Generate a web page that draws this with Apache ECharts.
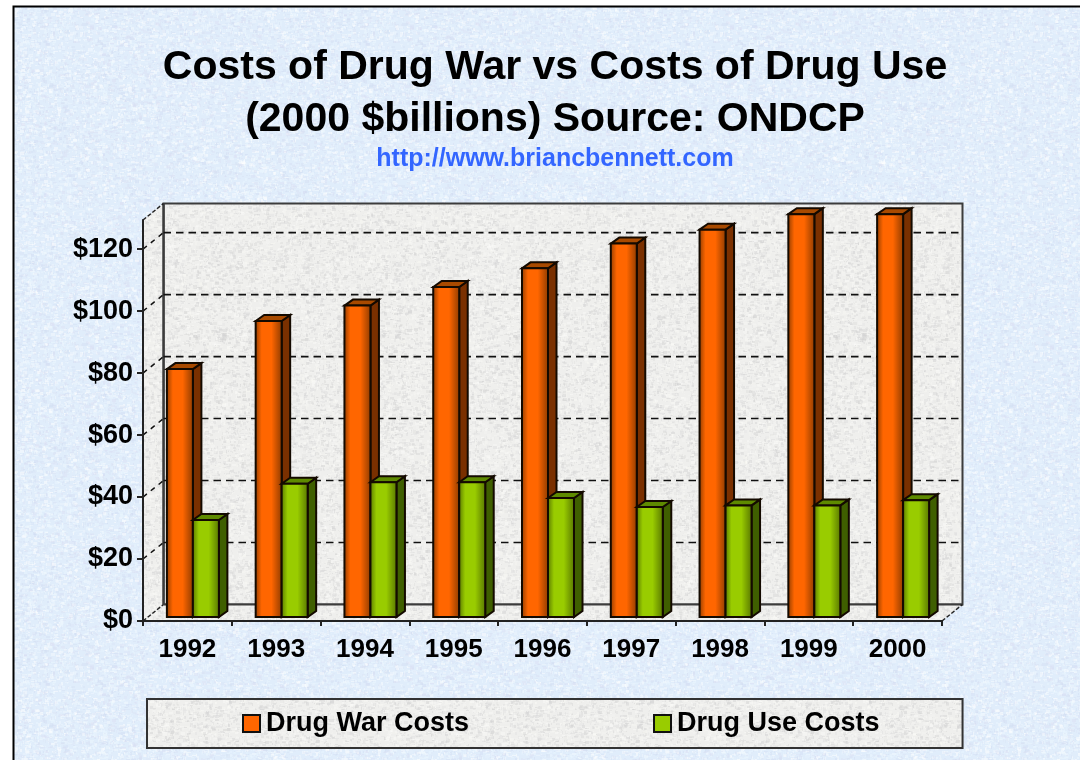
<!DOCTYPE html>
<html><head><meta charset="utf-8">
<script src="https://cdn.jsdelivr.net/npm/echarts@6/dist/echarts.min.js"></script>
<style>html,body{margin:0;padding:0;background:#fff}#c{width:1080px;height:760px}</style>
</head><body><div id="c"></div>
<script>
const years = ['1992','1993','1994','1995','1996','1997','1998','1999','2000'];
const warCosts = [80, 95.5, 100.5, 106.5, 112.5, 120.5, 125, 130, 130];
const useCosts = [31.3, 43, 43.5, 43.5, 38.4, 35.5, 36, 36, 37.7];
const yTicks = [0, 20, 40, 60, 80, 100, 120];
const wallLines = [20, 40, 60, 80, 100, 120];

function texture(size, seed, base, spots) {
  const cv = document.createElement('canvas');
  cv.width = cv.height = size;
  const g = cv.getContext('2d');
  let s = seed;
  const next = () => (s = (s * 1664525 + 1013904223) % 4294967296) / 4294967296;
  g.fillStyle = base; g.fillRect(0, 0, size, size);
  for (let i = 0; i < size * size / 5; i++) {
    g.fillStyle = spots[Math.floor(next() * spots.length)];
    g.globalAlpha = 0.2 + next() * 0.3;
    const w = 1 + Math.floor(next() * 4), h = 1 + Math.floor(next() * 3);
    g.fillRect(Math.floor(next() * size), Math.floor(next() * size), w, h);
  }
  g.globalAlpha = 1;
  return { image: cv, repeat: 'repeat' };
}
const bluePaper = texture(320, 7, '#e0edfb', ['#f4fbff', '#d2ddf2', '#eaf6ff', '#dbe0f3', '#ffffff']);
const grayPaper = texture(320, 19, '#efefed', ['#fbfbf8', '#dcdcdc', '#f5f5f2', '#d3d3d3']);

// depth of the box around the plot, and of the bars inside it
const DX = 20.5, DY = -16.5, BAR_W = 26, BAR_DX = 8.5, BAR_DY = -6, BAR_LIFT = 4;

function renderWalls(params, api) {
  const c = params.coordSys;
  const l = c.x, r = c.x + c.width, t = c.y, b = c.y + c.height;
  const P = (pts, style) => ({ type: 'polygon', shape: { points: pts }, style });
  const L = (x1, y1, x2, y2, style) => ({ type: 'line', shape: { x1, y1, x2, y2 }, style });
  const solid = { stroke: '#3c3c3c', lineWidth: 2 };
  const dash = { stroke: '#111', lineWidth: 1.6, lineDash: [7.5, 5] };
  const children = [
    P([[l + DX, t + DY], [r + DX, t + DY], [r + DX, b + DY], [l + DX, b + DY]],
      { fill: grayPaper, stroke: '#3c3c3c', lineWidth: 2 }),
    P([[l, t], [l + DX, t + DY], [l + DX, b + DY], [l, b]], { fill: grayPaper }),
    P([[l, b], [l + DX, b + DY], [r + DX, b + DY], [r, b]], { fill: grayPaper }),
    L(l + DX, t + DY, l + DX, b + DY, { stroke: '#3c3c3c', lineWidth: 2.5 }),
    L(l + DX, b + DY, r + DX, b + DY, solid),
    L(l, t, l + DX, t + DY, { stroke: '#222', lineWidth: 1.5, lineDash: [4, 2] }),
    L(l, b, l + DX, b + DY, { stroke: '#222', lineWidth: 1.5, lineDash: [4, 2] }),
    L(r, b, r + DX, b + DY, { stroke: '#222', lineWidth: 1.5, lineDash: [4, 2] })
  ];
  wallLines.forEach(v => {
    const y = api.coord([0, v])[1];
    children.push(L(l + DX, y + DY, r + DX, y + DY, dash));
    children.push(L(l, y, l + DX, y + DY, { stroke: '#111', lineWidth: 1.5, lineDash: [5, 5] }));
  });
  return { type: 'group', children };
}

function barRenderer(offset, cols) {
  return function (params, api) {
    const i = api.value(0), v = api.value(1);
    const xc = api.coord([i, 0])[0];
    const yb = api.coord([i, 0])[1] - BAR_LIFT;
    const yt = api.coord([i, v])[1] - BAR_LIFT;
    const x0 = xc + offset, x1 = x0 + BAR_W;
    const stroke = { stroke: '#140a00', lineWidth: 2 };
    return {
      type: 'group',
      children: [
        { type: 'polygon', shape: { points: [[x1, yt], [x1 + BAR_DX, yt + BAR_DY], [x1 + BAR_DX, yb + BAR_DY], [x1, yb]] },
          style: Object.assign({ fill: cols.side }, stroke) },
        { type: 'polygon', shape: { points: [[x0, yt], [x0 + BAR_DX, yt + BAR_DY], [x1 + BAR_DX, yt + BAR_DY], [x1, yt]] },
          style: Object.assign({ fill: cols.top }, stroke) },
        { type: 'rect', shape: { x: x0, y: yt, width: BAR_W, height: yb - yt },
          style: Object.assign({
            fill: new echarts.graphic.LinearGradient(0, 0, 1, 0, [
              { offset: 0, color: cols.edge }, { offset: 0.25, color: cols.face },
              { offset: 0.6, color: cols.face }, { offset: 1, color: cols.edge }])
          }, stroke) }
      ]
    };
  };
}

const chart = echarts.init(document.getElementById('c'), null, { renderer: 'canvas' });
chart.setOption({
  animation: false,
  backgroundColor: '#fff',
  textStyle: { fontFamily: '"Liberation Sans", Arial, sans-serif' },
  graphic: { elements: [{
    type: 'rect', z: -20, silent: true,
    shape: { x: 13.5, y: 6.5, width: 1100, height: 800 },
    style: { fill: bluePaper, stroke: '#000', lineWidth: 2 }
  }] },
  title: [
    { text: 'Costs of Drug War vs Costs of Drug Use\n(2000 $billions) Source: ONDCP',
      left: 550, top: 37, textAlign: 'center',
      textStyle: { fontSize: 41, fontWeight: 'bold', color: '#000', lineHeight: 52, fontFamily: '"Liberation Sans", Arial, sans-serif' } },
    { text: 'http://www.briancbennett.com', left: 550, top: 142, textAlign: 'center',
      textStyle: { fontSize: 25, fontWeight: 'bold', color: '#3366ff', fontFamily: '"Liberation Sans", Arial, sans-serif' } }
  ],
  legend: {
    data: ['Drug War Costs', 'Drug Use Costs'],
    left: 147, top: 699,
    padding: [11, 83, 11, 95],
    itemGap: 184, itemWidth: 17, itemHeight: 17,
    icon: 'rect',
    backgroundColor: grayPaper, borderColor: '#333', borderWidth: 2,
    textStyle: { fontSize: 27, fontWeight: 'bold', color: '#000', padding: [2, 0, 0, 1] },
    selectedMode: false
  },
  grid: { left: 143, top: 220, width: 799, height: 401 },
  xAxis: {
    type: 'category', data: years,
    axisLine: { lineStyle: { color: '#222', width: 2 } },
    axisTick: { show: true, length: 5, lineStyle: { color: '#222', width: 2 } },
    axisLabel: { fontSize: 26, fontWeight: 'bold', color: '#000', margin: 16 }
  },
  yAxis: {
    type: 'value', min: 0, max: 129.4, interval: 20,
    splitLine: { show: false },
    axisLine: { show: true, lineStyle: { color: '#222', width: 2 } },
    axisTick: { show: true, length: 6, customValues: yTicks, lineStyle: { color: '#222', width: 2 } },
    axisLabel: { fontSize: 27, fontWeight: 'bold', color: '#000', margin: 10,
      customValues: yTicks, formatter: v => '$' + v }
  },
  series: [
    { type: 'custom', name: 'walls', z: -5, silent: true, renderItem: renderWalls, data: [[0, 0]],
      encode: { x: 0, y: 1 } },
    { type: 'custom', name: 'Drug War Costs', z: 3, renderItem: barRenderer(-20.5,
        { edge: '#8a3a00', face: '#ff6600', side: '#7a3000', top: '#a84a00' }),
      itemStyle: { color: '#ff6600', borderColor: '#111', borderWidth: 1.5 },
      encode: { x: 0, y: 1 }, data: years.map((y, i) => [i, warCosts[i]]) },
    { type: 'custom', name: 'Drug Use Costs', z: 4, renderItem: barRenderer(5.5,
        { edge: '#557300', face: '#99cc00', side: '#3f5f00', top: '#5e8a00' }),
      itemStyle: { color: '#99cc00', borderColor: '#111', borderWidth: 1.5 },
      encode: { x: 0, y: 1 }, data: years.map((y, i) => [i, useCosts[i]]) }
  ]
});
</script></body></html>
